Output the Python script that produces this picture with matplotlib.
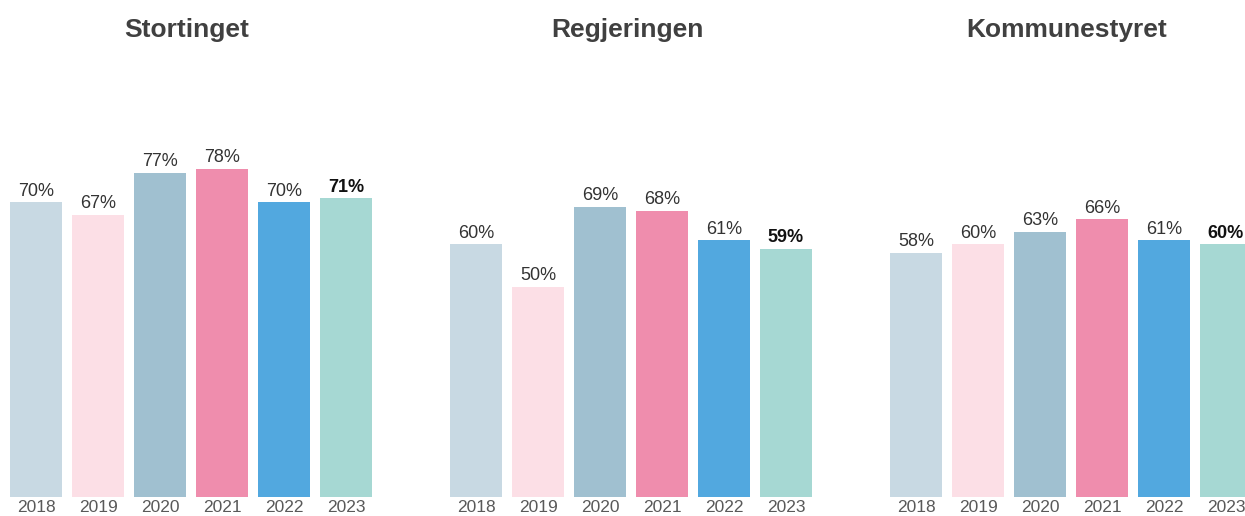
import matplotlib.pyplot as plt

plt.rcParams['font.family'] = ['Liberation Sans', 'DejaVu Sans']

years = ['2018', '2019', '2020', '2021', '2022', '2023']
titles = ['Stortinget', 'Regjeringen', 'Kommunestyret']
stortinget = [70, 67, 77, 78, 70, 71]
regjeringen = [60, 50, 69, 68, 61, 59]
kommunestyret = [58, 60, 63, 66, 61, 60]
colors = ['#C8D9E3', '#FCDFE6', '#A0C0D0', '#EF8DAD', '#52A8DF', '#A6D8D3']

W, H = 1245, 516
fig = plt.figure(figsize=(W / 100, H / 100), dpi=100)

# panel positions in pixels (left edge of first bar, baseline, height for 0-100%)
lefts = [10, 450, 890]
base = 19
span = 362
full = 421

for left, title, vals in zip(lefts, titles, [stortinget, regjeringen, kommunestyret]):
    ax = fig.add_axes([left / W, base / H, span / W, full / H])
    x = range(len(years))
    ax.bar(x, vals, width=0.84, color=colors)
    ax.set_xlim(-0.42, 5.42)
    ax.set_ylim(0, 100)
    for i, v in enumerate(vals):
        last = i == len(vals) - 1
        ax.text(i, v + 0.6, f'{v}%', ha='center', va='bottom', fontsize=13,
                color='#111111' if last else '#333333',
                fontweight='bold' if last else 'normal')
    ax.set_xticks(list(x))
    ax.set_xticklabels(years, fontsize=12.5, color='#595959')
    ax.tick_params(axis='x', length=0, pad=2)
    ax.set_yticks([])
    for s in ax.spines.values():
        s.set_visible(False)
    fig.text((left + span / 2 - 4) / W, 1 - 30 / H, title, ha='center', va='center',
             fontsize=19, fontweight='bold', color='#404040')

fig.savefig('out.png', dpi=100)
